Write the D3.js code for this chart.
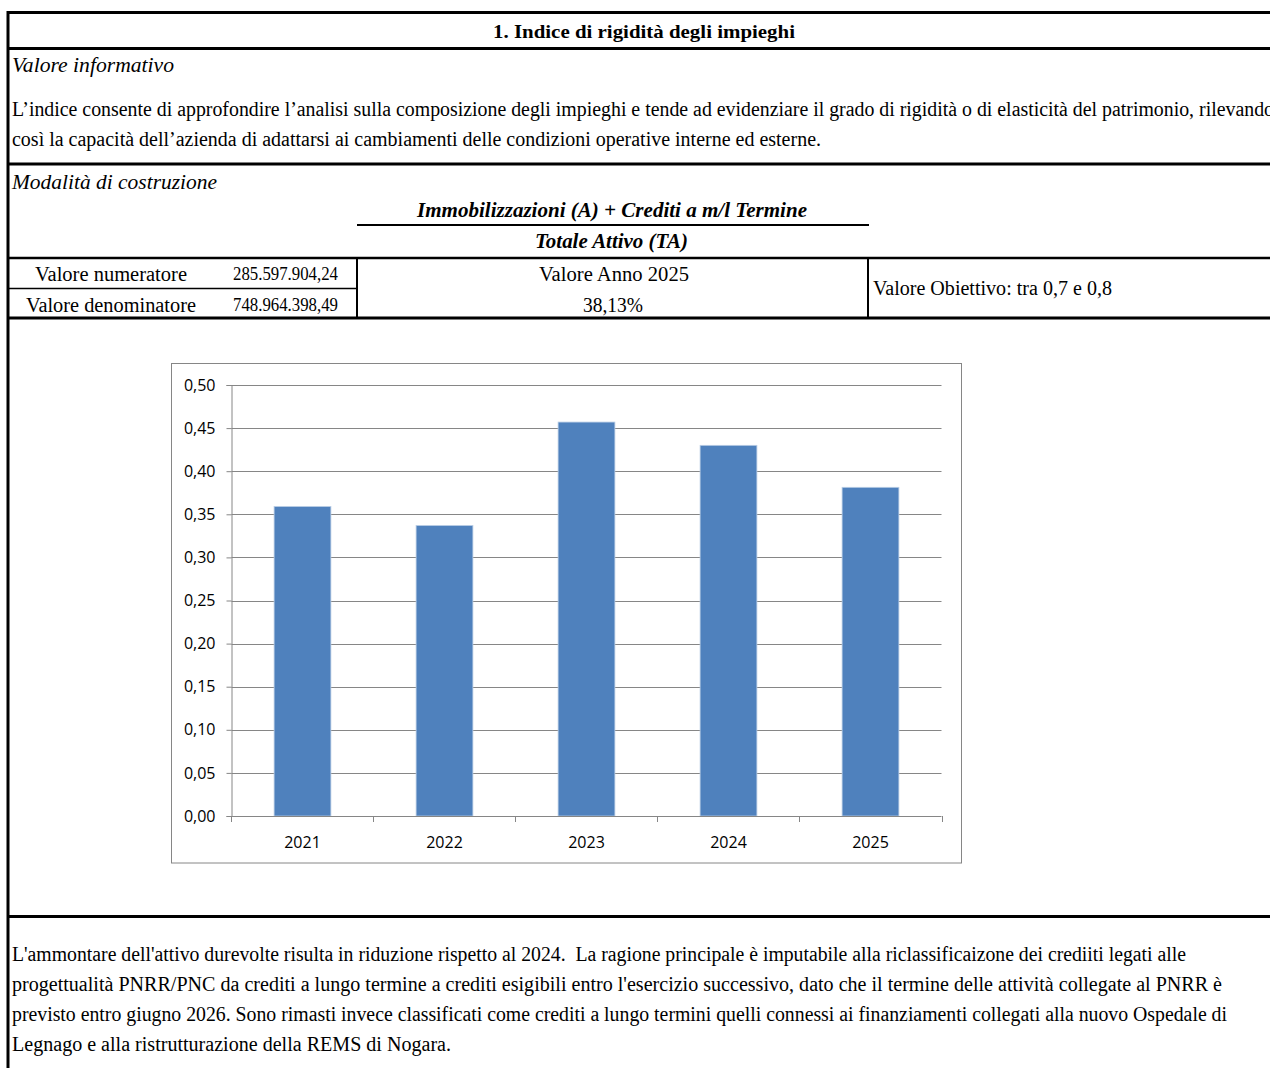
<!DOCTYPE html>
<html lang="it">
<head>
<meta charset="utf-8">
<script src="https://cdn.jsdelivr.net/npm/d3@7"></script>
<style>
  html, body { margin: 0; padding: 0; background: #fff; }
  svg { display: block; }
  .serif { font-family: "Liberation Serif", "Times New Roman", serif; fill: #000; white-space: pre; }
  .axis text { font-family: "Open Sans", "Liberation Sans", sans-serif; fill: #000; }
</style>
</head>
<body>
<svg id="sheet" width="1270" height="1068"></svg>
<script>
// Index values per year (ratio of fixed assets + long-term receivables to total assets)
const years = ["2021", "2022", "2023", "2024", "2025"];
const values = [0.359, 0.337, 0.457, 0.430, 0.3813];
const yTicks = [0, 0.05, 0.10, 0.15, 0.20, 0.25, 0.30, 0.35, 0.40, 0.45, 0.50];

// Sheet texts
const title = "1. Indice di rigidità degli impieghi";
const infoHeading = "Valore informativo";
const infoLines = [
  "L\u2019indice consente di approfondire l\u2019analisi sulla composizione degli impieghi e tende ad evidenziare il grado di rigidità o di elasticità del patrimonio, rilevando",
  "così la capacità dell\u2019azienda di adattarsi ai cambiamenti delle condizioni operative interne ed esterne."
];
const buildHeading = "Modalità di costruzione";
const numeratorLabel = "Immobilizzazioni (A) + Crediti a m/l Termine";
const denominatorLabel = "Totale Attivo (TA)";
const rowLabels = ["Valore numeratore", "Valore denominatore"];
const rowValues = ["285.597.904,24", "748.964.398,49"];
const yearValueLabel = ["Valore Anno 2025", "38,13%"];
const targetLabel = "Valore Obiettivo: tra 0,7 e 0,8";
const noteLines = [
  "L'ammontare dell'attivo durevolte risulta in riduzione rispetto al 2024.  La ragione principale è imputabile alla riclassificaizone dei crediiti legati alle",
  "progettualità PNRR/PNC da crediti a lungo termine a crediti esigibili entro l'esercizio successivo, dato che il termine delle attività collegate al PNRR è",
  "previsto entro giugno 2026. Sono rimasti invece classificati come crediti a lungo termini quelli connessi ai finanziamenti collegati alla nuovo Ospedale di",
  "Legnago e alla ristrutturazione della REMS di Nogara."
];

const svg = d3.select("#sheet");
const W = 1270;

// ---- table frame ----
function hline(y, x1, x2, w) {
  svg.append("line").attr("x1", x1).attr("x2", x2).attr("y1", y).attr("y2", y)
    .attr("stroke", "#000").attr("stroke-width", w);
}
function vline(x, y1, y2, w) {
  svg.append("line").attr("x1", x).attr("x2", x).attr("y1", y1).attr("y2", y2)
    .attr("stroke", "#000").attr("stroke-width", w);
}
hline(12.5, 7, W, 3);
hline(48.5, 7, W, 3);
hline(164, 7, W, 3);
hline(258, 7, W, 2.5);
hline(288.5, 7, 357, 1.5);
hline(318, 7, W, 3);
hline(916.5, 7, W, 3);
hline(225, 357, 869, 2);
vline(8, 11, 1068, 3);
vline(357, 257, 319, 2);
vline(868, 257, 319, 2);

// ---- sheet text ----
function txt(x, y, s, o = {}) {
  const t = svg.append("text").attr("class", "serif")
    .attr("x", x).attr("y", y)
    .attr("font-size", o.size || 20)
    .attr("text-anchor", o.anchor || "start")
    .attr("font-weight", o.weight || "normal")
    .attr("font-style", o.style || "normal")
    .text(s);
  if (o.len) t.attr("textLength", o.len).attr("lengthAdjust", "spacingAndGlyphs");
  return t;
}
txt(493, 38, title, { weight: "bold", size: 19, len: 302 });
txt(12, 72, infoHeading, { style: "italic", len: 162 });
txt(12, 116, infoLines[0], { len: 1262 });
txt(12, 146, infoLines[1], { len: 809 });
txt(12, 189, buildHeading, { style: "italic", len: 205 });
txt(417, 217, numeratorLabel, { weight: "bold", style: "italic", len: 390 });
txt(535, 248, denominatorLabel, { weight: "bold", style: "italic", len: 153 });
txt(35, 281, rowLabels[0], { len: 152 });
txt(26, 312, rowLabels[1], { len: 170 });
txt(233, 280, rowValues[0], { size: 18, len: 105 });
txt(233, 311, rowValues[1], { size: 18, len: 105 });
txt(539, 281, yearValueLabel[0], { len: 150 });
txt(583, 312, yearValueLabel[1], { len: 60 });
txt(873, 295, targetLabel, { len: 239 });
const noteLens = [1174, 1210, 1215, 439];
noteLines.forEach((s, i) => txt(12, 961 + i * 30, s, { len: noteLens[i] }));

// ---- chart ----
svg.append("rect").attr("x", 171.5).attr("y", 363.5).attr("width", 790).attr("height", 499.5)
  .attr("fill", "#fff").attr("stroke", "#868686").attr("stroke-width", 1);

const plot = { left: 231.5, right: 941.5, top: 385, bottom: 816 };
const x = d3.scaleBand().domain(years).range([plot.left, plot.right])
  .paddingInner(0.6).paddingOuter(0.3);
const y = d3.scaleLinear().domain([0, 0.5]).range([plot.bottom, plot.top]);
const it = d3.formatLocale({ decimal: ",", thousands: ".", grouping: [3], currency: ["€", ""] });
const fmt = it.format(".2f");

// horizontal gridlines
svg.append("g").selectAll("line").data(yTicks.filter(d => d > 0)).join("line")
  .attr("x1", plot.left).attr("x2", plot.right)
  .attr("y1", d => Math.round(y(d)) + 0.5).attr("y2", d => Math.round(y(d)) + 0.5)
  .attr("stroke", "#868686").attr("stroke-width", 1);

// bars
svg.append("g").selectAll("rect").data(values).join("rect")
  .attr("x", (d, i) => x(years[i]))
  .attr("width", x.bandwidth())
  .attr("y", d => y(d))
  .attr("height", d => y(0) - y(d))
  .attr("fill", "#4f81bd")
  .attr("stroke", "#b9cde5").attr("stroke-width", 0.8);

// y axis
const yAxis = svg.append("g").attr("class", "axis")
  .attr("transform", `translate(${plot.left},0)`)
  .call(d3.axisLeft(y).tickValues(yTicks).tickFormat(fmt).tickSizeOuter(0).tickSize(5).tickPadding(11));
yAxis.selectAll("path, line").attr("stroke", "#868686");
yAxis.selectAll("text").attr("font-size", 16);

// x axis: ticks at category boundaries
const xAxis = svg.append("g").attr("class", "axis")
  .attr("transform", `translate(0,${plot.bottom})`);
xAxis.append("line").attr("x1", plot.left).attr("x2", plot.right).attr("y1", 0.5).attr("y2", 0.5)
  .attr("stroke", "#868686");
const bounds = years.map(d => x(d) - x.step() * x.paddingInner() / 2).concat([plot.right]);
xAxis.selectAll(".bt").data(bounds).join("line").attr("class", "bt")
  .attr("x1", d => Math.round(d) + 0.5).attr("x2", d => Math.round(d) + 0.5)
  .attr("y1", 0).attr("y2", 6).attr("stroke", "#868686");
xAxis.selectAll(".yl").data(years).join("text").attr("class", "yl")
  .attr("x", d => x(d) + x.bandwidth() / 2).attr("y", 32)
  .attr("text-anchor", "middle").attr("font-size", 16).text(d => d);
</script>
</body>
</html>
